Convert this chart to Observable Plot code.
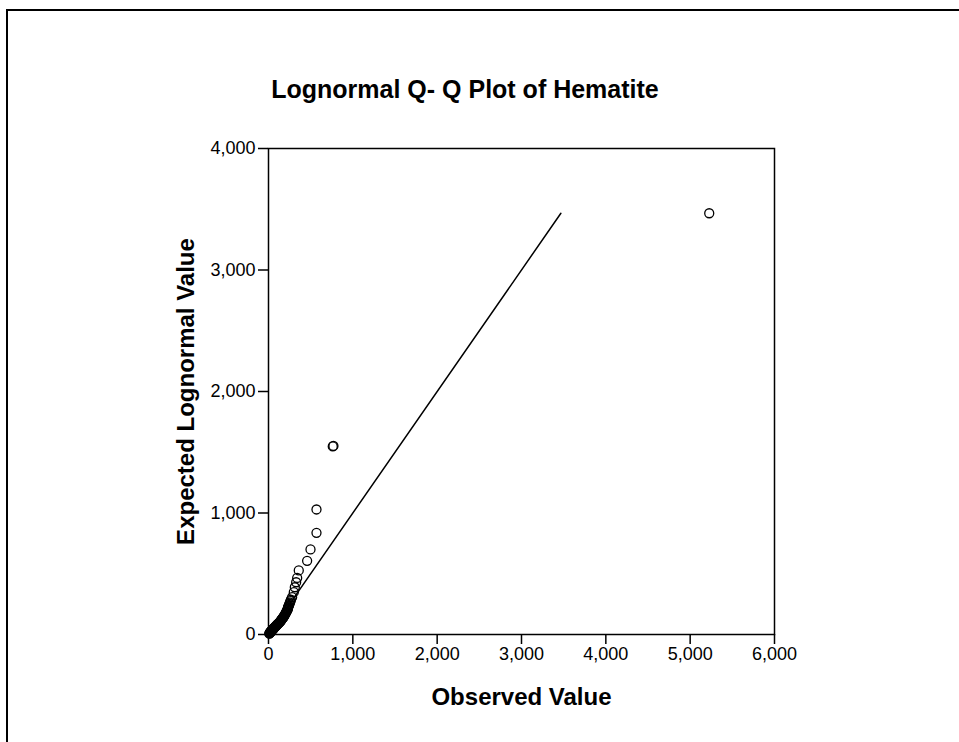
<!DOCTYPE html>
<html>
<head>
<meta charset="utf-8">
<script src="https://cdn.jsdelivr.net/npm/d3@7"></script>
<script src="https://cdn.jsdelivr.net/npm/@observablehq/plot@0.6"></script>
<style>
  html, body { margin: 0; padding: 0; background: #fff; }
  #wrap { position: relative; width: 959px; height: 742px; overflow: hidden; font-family: "Liberation Sans", Arial, sans-serif; }
  #border { position: absolute; left: 6px; top: 9px; width: 1000px; height: 800px; border: 2px solid #000; box-sizing: border-box; }
  #title { position: absolute; left: 0; width: 930px; top: 75px; text-align: center; font-weight: bold; font-size: 25px; color: #000; }
  #chart { position: absolute; left: 0; top: 0; }
</style>
</head>
<body>
<div id="wrap">
  <div id="border"></div>
  <div id="chart"></div>
  <div id="title">Lognormal Q- Q Plot of Hematite</div>
</div>
<script>
const titleText = "Lognormal Q- Q Plot of Hematite";
const xLabel = "Observed Value";
const yLabel = "Expected Lognormal Value";
const xTicks = [0, 1000, 2000, 3000, 4000, 5000, 6000];
const yTicks = [0, 1000, 2000, 3000, 4000];
const observed = [5226, 770, 762, 569, 569, 498, 458, 359, 340, 328, 312, 300, 280, 266, 260, 255, 249, 244, 240, 236, 233, 230, 228, 225, 222, 216, 210, 205, 200, 195, 190, 185, 180, 176, 172, 166, 160, 155, 150, 146, 142, 136, 130, 124, 118, 113, 108, 103, 98, 94, 90, 85, 80, 76, 72, 68, 64, 61, 58, 55, 52, 48, 45, 41, 38, 35, 32, 30, 28, 25, 22, 20, 18, 16, 14, 12, 10];
const expected = [3467, 1552, 1548, 1029, 837, 700, 606, 527, 466, 430, 389, 348, 307, 286, 274, 263, 253, 244, 236, 230, 225, 217, 210, 204, 198, 191, 185, 177, 170, 164, 158, 152, 147, 142, 137, 132, 128, 123, 118, 113, 109, 104, 100, 96, 92, 88, 85, 81, 78, 74, 71, 67, 64, 61, 58, 55, 52, 49, 47, 44, 42, 39, 37, 34, 32, 29, 27, 25, 23, 21, 19, 17, 15, 13, 11, 9, 7];
const refLine = [7, 3467];

document.getElementById("title").textContent = titleText;

const points = observed.map((o, i) => ({obs: o, exp: expected[i]}));
const line = refLine.map(v => ({v}));

const chart = Plot.plot({
  width: 959,
  height: 742,
  marginLeft: 268,
  marginRight: 185,
  marginTop: 148,
  marginBottom: 108,
  style: {fontFamily: "'Liberation Sans', Arial, sans-serif", color: "#000", background: "transparent"},
  x: {domain: [0, 6000]},
  y: {domain: [0, 4000]},
  marks: [
    Plot.axisX({ticks: xTicks, tickFormat: d3.format(","), tickSize: 10, tickPadding: 3, fontSize: 18, label: null, stroke: "#000", strokeWidth: 1.5}),
    Plot.axisY({ticks: yTicks, tickFormat: d3.format(","), tickSize: 10, tickPadding: 3, fontSize: 18, label: null, stroke: "#000", strokeWidth: 1.5}),
    Plot.line(line, {x: "v", y: "v", stroke: "#000", strokeWidth: 1.5}),
    Plot.dot(points, {x: "obs", y: "exp", r: 4.5, stroke: "#000", strokeWidth: 1.3, fill: "none"}),
    Plot.frame({stroke: "#000", strokeWidth: 1.5}),
    Plot.text([xLabel], {frameAnchor: "bottom", dy: 70, text: d => d, fontSize: 24, fontWeight: "bold", fill: "#000"}),
    Plot.text([yLabel], {frameAnchor: "left", textAnchor: "middle", dx: -82, rotate: -90, text: d => d, fontSize: 24, fontWeight: "bold", fill: "#000"})
  ]
});
document.getElementById("chart").appendChild(chart);
</script>
</body>
</html>
